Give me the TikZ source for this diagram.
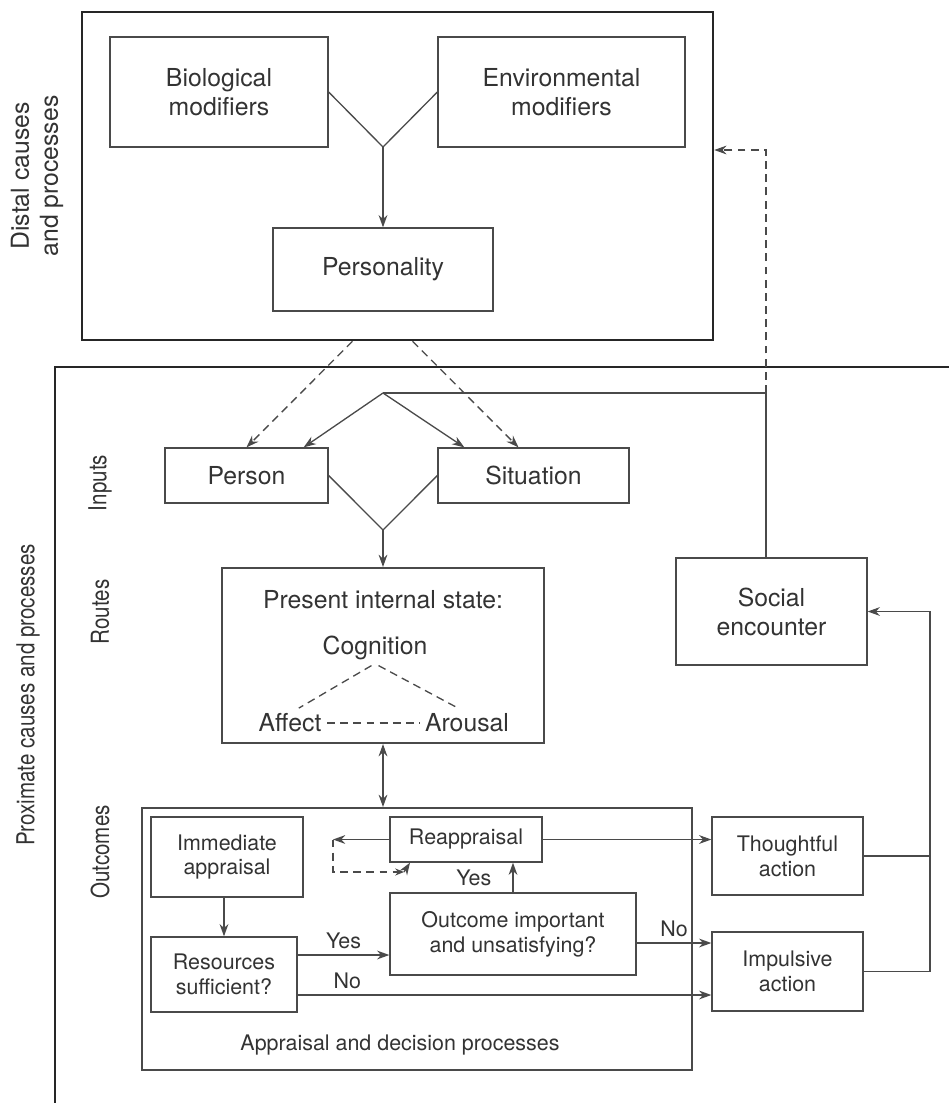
\documentclass[tikz,border=0pt]{standalone}
\usepackage{fontspec}
\setmainfont{TeX Gyre Heros}
\usepackage{tikz}
\usetikzlibrary{arrows.meta, positioning, calc}
\definecolor{inkgray}{HTML}{333333}
\definecolor{linegray}{HTML}{4A4A4A}

\begin{document}
\begin{tikzpicture}[x=0.02cm, y=-0.02cm,
  cardbox/.style={draw=linegray, line width=0.75pt, align=center, inner sep=2pt, text=inkgray},
  bigbox/.style={cardbox, font=\fontsize{14.1}{16.5}\selectfont},
  smallbox/.style={cardbox, font=\fontsize{12.2}{14.2}\selectfont},
  zonebox/.style={draw=black!85, line width=1.5pt, inner sep=0pt},
  zoneline/.style={draw=black!85, line width=1.5pt},
  flow/.style={draw=linegray, line width=0.75pt, -{Stealth[length=7pt,width=5pt]}},
  twoway/.style={draw=linegray, line width=0.75pt, {Stealth[length=7pt,width=5pt]}-{Stealth[length=7pt,width=5pt]}},
  link/.style={draw=linegray, line width=0.75pt},
  dashy/.style={dash pattern=on 4.5pt off 3pt},
  sidelabel/.style={text=inkgray, font=\fontsize{14.1}{16.5}\selectfont, rotate=90, align=center},
  bigtag/.style={text=inkgray, font=\fontsize{14.1}{16.5}\selectfont, inner sep=3pt},
  tag/.style={text=inkgray, font=\fontsize{12.2}{14.2}\selectfont, inner sep=2pt},
]
\useasboundingbox (0,0) rectangle (949,1103);

% --- distal causes ---
\node[zonebox, minimum width=12.62cm, minimum height=6.56cm] (distal) at (397.5,176) {};
\node[sidelabel] (distlab) at (37,176) {Distal causes\\and processes};
\node[bigbox, minimum width=4.36cm, minimum height=2.2cm] (bio) at (219,92) {Biological\\modifiers};
\node[bigbox, minimum width=4.94cm, minimum height=2.2cm] (env) at (561.5,92) {Environmental\\modifiers};
\node[bigbox, minimum width=4.4cm, minimum height=1.66cm] (pers) at (383,269.5) {Personality};
\coordinate (yjoin) at (383,147);
\draw[link] (bio.east) -- (yjoin) -- (env.west);
\draw[flow] (yjoin) -- (pers.north);

% --- proximate causes ---
\draw[zoneline] (55,1103) -- (55,367) -- (949,367);
\node[sidelabel] (proxlab) at (28,695) {\scalebox{0.83}[1]{Proximate causes and processes}};
\node[sidelabel] (inlab) at (100,483) {\scalebox{0.83}[1]{Inputs}};
\node[sidelabel] (routelab) at (100,612) {\scalebox{0.83}[1]{Routes}};
\node[sidelabel] (outlab) at (100,852) {\scalebox{0.83}[1]{Outcomes}};

% inputs
\node[bigbox, minimum width=3.26cm, minimum height=1.1cm] (person) at (246.5,475.5) {Person};
\node[bigbox, minimum width=3.82cm, minimum height=1.1cm] (sit) at (533.5,475.5) {Situation};
\coordinate (apex) at (383,393);
\draw[flow] (apex) -- ($(person.north east)+(-25,0)$);
\draw[flow] (apex) -- ($(sit.north west)+(27,0)$);
\draw[flow, dashy] ($(distal.south)+(-45,0)$) -- (person.north);
\draw[flow, dashy] ($(distal.south)+(15,0)$) -- ($(sit.north)+(-15,0)$);

% routes
\node[bigbox, line width=1.2pt, minimum width=6.44cm, minimum height=3.5cm] (state) at (383,655.5) {};
\node[bigtag] (stitle) at (383,600) {Present internal state:};
\node[bigtag] (cog) at (375,648) {Cognition};
\node[bigtag] (aff) at (290,723) {Affect};
\node[bigtag] (aro) at (467,723) {Arousal};
\draw[link, dashy] ([xshift=-2pt]cog.south) -- ([xshift=5pt]aff.north);
\draw[link, dashy] ([xshift=2pt]cog.south) -- ([xshift=-5pt]aro.north);
\draw[link, dashy] (aff.east) -- (aro.west);
\coordinate (vjoin) at (383,530);
\draw[link] (person.east) -- (vjoin) -- (sit.west);
\draw[flow] (vjoin) -- (state.north);

% social encounter feedback
\node[bigbox, minimum width=3.82cm, minimum height=2.14cm] (social) at (771.5,611.5) {Social\\encounter};
\coordinate (fb) at (766,393);
\coordinate (fbtop) at (766,150);
\draw[link] ($(social.north)+(-5.5,0)$) -- (fb) -- (apex);
\draw[flow, dashy] (fb) -- (fbtop) -- (distal.east |- fbtop);

% outcomes
\node[bigbox, line width=1.2pt, minimum width=11cm, minimum height=5.24cm] (appr) at (417,939) {};
\node[tag] (apprlab) at (400,1045) {Appraisal and decision processes};
\draw[twoway] (state.south) -- (state.south |- appr.north);
\node[smallbox, minimum width=3.04cm, minimum height=1.6cm] (immed) at (227,857) {Immediate\\appraisal};
\node[smallbox, minimum width=2.92cm, minimum height=1.5cm] (res) at (224,974.5) {Resources\\sufficient?};
\node[smallbox, minimum width=3.04cm, minimum height=0.9cm] (reap) at (466,839.5) {Reappraisal};
\node[smallbox, minimum width=4.92cm, minimum height=1.64cm] (outc) at (513,934) {Outcome important\\and unsatisfying?};
\node[smallbox, minimum width=3.02cm, minimum height=1.56cm] (thought) at (787.5,856) {Thoughtful\\action};
\node[smallbox, minimum width=3.02cm, minimum height=1.58cm] (impulse) at (787.5,971.5) {Impulsive\\action};

\draw[flow] (res.north |- immed.south) -- (res.north);
\draw[flow] ($(res.east)+(0,-19.5)$) -- (outc.west |- {$(res.east)+(0,-19.5)$}) node[tag, midway, above=1pt] {Yes};
\draw[flow] ($(res.east)+(0,20.5)$) -- (impulse.west |- {$(res.east)+(0,20.5)$}) node[tag, pos=0.12, above=1pt] {No};
\draw[flow] ($(outc.east)+(0,9)$) -- (impulse.west |- {$(outc.east)+(0,9)$}) node[tag, midway, above=1pt] {No};
\draw[flow] (outc.north) -- (outc.north |- reap.south) node[tag, midway, left=10pt] {Yes};
\draw[flow] (reap.east) -- (thought.west |- reap.east);

% reappraisal loop
\coordinate (loopc) at (333,839.5);
\coordinate (loopb) at (333,872);
\coordinate (loopd) at (404,872);
\draw[flow] (reap.west) -- (loopc);
\draw[link, dashy, -{Stealth[length=5pt,width=4pt]}] (loopc) -- (loopb) -- (loopd);
\draw[flow] (loopd) -- (reap.south west -| 410,0);

% action feedback
\coordinate (rail) at (930,611.5);
\draw[link] (thought.east) -- (thought.east -| rail);
\draw[flow] (impulse.east) -| (rail) -- (social.east);
\end{tikzpicture}
\end{document}
